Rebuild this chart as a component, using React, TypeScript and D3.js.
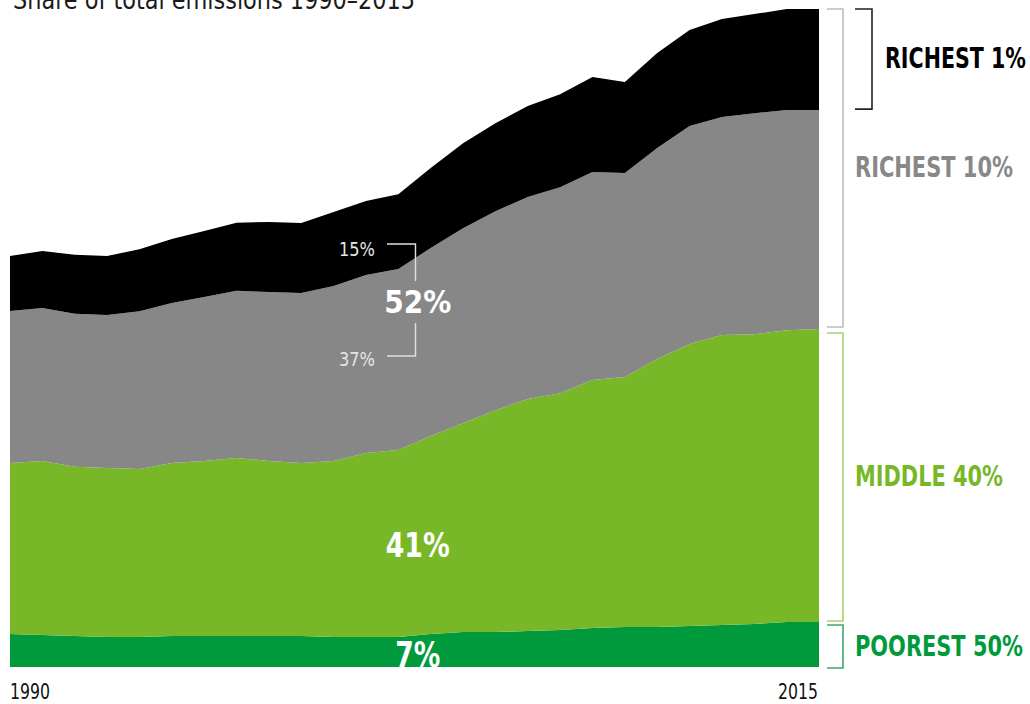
import React from "react";
import * as d3 from "d3";

// annual emissions (GtCO2) by income group
const years = [1990, 1991, 1992, 1993, 1994, 1995, 1996, 1997, 1998, 1999, 2000, 2001, 2002,
  2003, 2004, 2005, 2006, 2007, 2008, 2009, 2010, 2011, 2012, 2013, 2014, 2015];
const poorest50 = [1.81, 1.75, 1.70, 1.64, 1.64, 1.70, 1.70, 1.70, 1.70, 1.70, 1.64, 1.64, 1.64,
  1.81, 1.91, 1.91, 1.97, 2.02, 2.13, 2.19, 2.19, 2.24, 2.30, 2.35, 2.46, 2.46];
const middle40 = [9.35, 9.52, 9.25, 9.25, 9.19, 9.46, 9.57, 9.74, 9.57, 9.46, 9.63, 10.07, 10.23,
  10.83, 11.43, 12.14, 12.69, 12.96, 13.57, 13.68, 14.66, 15.43, 15.86, 15.86, 15.97, 16.03];
const richest10 = [8.32, 8.37, 8.37, 8.37, 8.64, 8.75, 8.97, 9.14, 9.25, 9.30, 9.57, 9.74, 9.90,
  10.28, 10.67, 10.89, 11.05, 11.27, 11.38, 11.16, 11.54, 11.93, 11.93, 12.09, 12.04, 11.98];
const richest1 = [3.01, 3.12, 3.23, 3.23, 3.39, 3.50, 3.61, 3.72, 3.83, 3.83, 4.05, 4.05, 4.10,
  4.38, 4.65, 4.81, 4.98, 5.09, 5.20, 4.98, 5.20, 5.25, 5.36, 5.42, 5.53, 5.53];

const groups = ["poorest", "middle", "rich10", "rich1"];
const groupLabels = ["POOREST 50%", "MIDDLE 40%", "RICHEST 10%", "RICHEST 1%"];
const shareLabels = ["7%", "41%", "52%"];
const subShares = ["15%", "37%"];
const tickYears = [1990, 2015];

const colors = ["#009a3d", "#78b828", "#878787", "#000000"];
const bracketColors = ["#3fa866", "#a6d36a", "#bdbdbd", "#222222"];
const labelColors = ["#009a3d", "#78b828", "#888888", "#000000"];

const FONT = "'Liberation Sans Narrow', 'DejaVu Sans Condensed', 'Roboto', sans-serif";

export default function App() {
  const width = 1030, height = 704;
  const x = d3.scaleLinear().domain([1990, 2015]).range([10, 819]);
  const y = d3.scaleLinear().domain([0, 36]).range([667, 9]);

  const rows = years.map((yr, i) => ({
    year: yr,
    poorest: poorest50[i],
    middle: middle40[i],
    rich10: richest10[i],
    rich1: richest1[i],
  }));
  const series = d3.stack<any>().keys(groups)(rows);
  const area = d3.area<any>()
    .x((d) => x(d.data.year))
    .y0((d) => y(d[0]))
    .y1((d) => y(d[1]));

  // bracket extents at 2015
  const last = series.map((s) => s[s.length - 1]);
  const yTop = y(last[3][1]);
  const yG = y(last[3][0]);
  const yL = y(last[2][0]);
  const yD = y(last[1][0]);
  const y0 = y(0);
  const brackets = [
    { y1: yD + 3, y2: y0 + 1, x1: 827, x2: 843 },
    { y1: yL + 4, y2: yD - 1, x1: 827, x2: 843 },
    { y1: yTop, y2: yL - 2, x1: 827, x2: 843 },
    { y1: yTop, y2: yG - 1, x1: 855, x2: 872 },
  ];
  const labelX = [855, 855, 855, 885];
  const labelW = [168, 148, 158, 141];

  const ax = x(2002.6);

  return (
    <svg width={width} height={height} style={{ position: "absolute", left: 0, top: 0 }}
      fontFamily={FONT}>
      <rect width={width} height={height} fill="#fff" />
      <text x={13} y={9} fontSize={26} fill="#1a1a1a" textLength={402} lengthAdjust="spacingAndGlyphs">
        Share of total emissions 1990–2015
      </text>

      {series.map((s, i) => (
        <path key={s.key} d={area(s) || ""} fill={colors[i]} />
      ))}

      {/* brackets + group labels on the right */}
      {brackets.map((b, i) => (
        <g key={i}>
          <path d={`M${b.x1},${b.y1}H${b.x2}V${b.y2}H${b.x1}`} fill="none"
            stroke={bracketColors[i]} strokeWidth={1.6} />
          <text x={labelX[i]} y={(b.y1 + b.y2) / 2 + 9} fontSize={28} fontWeight="bold"
            fill={labelColors[i]} textLength={labelW[i]} lengthAdjust="spacingAndGlyphs">
            {groupLabels[i]}
          </text>
        </g>
      ))}

      {/* in-chart share labels */}
      <text x={ax} y={667} fontSize={35} fontWeight="bold" fill="#fff" textAnchor="middle"
        textLength={45} lengthAdjust="spacingAndGlyphs">{shareLabels[0]}</text>
      <text x={ax} y={557} fontSize={34} fontWeight="bold" fill="#fff" textAnchor="middle"
        textLength={64} lengthAdjust="spacingAndGlyphs">{shareLabels[1]}</text>
      <text x={ax} y={313} fontSize={32} fontWeight="bold" fill="#fff" textAnchor="middle"
        textLength={67} lengthAdjust="spacingAndGlyphs">{shareLabels[2]}</text>

      <text x={375} y={256} fontSize={20} fill="#e6e6e6" textAnchor="end"
        textLength={36} lengthAdjust="spacingAndGlyphs">{subShares[0]}</text>
      <text x={375} y={366} fontSize={20} fill="#e6e6e6" textAnchor="end"
        textLength={36} lengthAdjust="spacingAndGlyphs">{subShares[1]}</text>
      <path d="M387,244H415.5V281" fill="none" stroke="#e0e0e0" strokeWidth={1.4} />
      <path d="M415.5,323V356H387" fill="none" stroke="#e0e0e0" strokeWidth={1.4} />

      {/* year labels */}
      {tickYears.map((t, i) => (
        <text key={t} x={i === 0 ? x(t) : x(t) - 1} y={699} fontSize={22} fill="#111"
          textAnchor={i === 0 ? "start" : "end"} textLength={40} lengthAdjust="spacingAndGlyphs">
          {t}
        </text>
      ))}
    </svg>
  );
}
